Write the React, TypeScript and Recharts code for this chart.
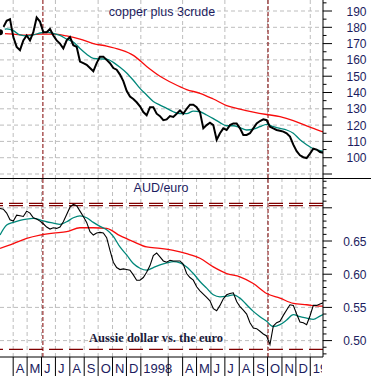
import React from 'react';
import { LineChart, Line, XAxis, YAxis, CartesianGrid, ReferenceLine } from 'recharts';

// x values are days counted from 1 Jan 1997
const X_DOMAIN: [number, number] = [61.6, 757.4];
const PRICE_START_DAY = 61.6;
const PRICE_STEP_DAYS = 7.18;
const FAST_STEP_DAYS = 14.36;
const SLOW_STEP_DAYS = 28.72;

// ---- copper plus 3crude (top panel) ----
const copperPrice = [
  177, 180, 184, 185, 174, 168, 166, 172, 175, 172,
  177, 186, 183.5, 177, 177, 179, 175, 172, 170, 167,
  172, 174, 169, 168, 159, 158, 157, 155, 153, 158,
  162, 162, 160, 158, 155, 154, 151, 147, 141, 137.5,
  136, 134, 131.5, 128, 126, 131, 131, 127, 125.5, 123,
  123.5, 125.5, 125, 127, 129, 127, 130, 132.5, 132.5, 131,
  128, 118, 120, 121.5, 120, 111, 115, 118, 117, 120,
  121, 121, 118, 114, 114, 115, 118, 121, 122.5, 123.5,
  123, 119, 118, 117, 116.5, 116, 115, 113, 108, 104,
  101.5, 100.3, 99.8, 102.5, 105.5, 105, 103.5, 103, 102.5,
];
const copperFastMA = [
  178, 179, 178, 175.3, 174.7, 175.3, 176.5, 177, 176.2, 175,
  172.8, 171, 167, 163.5, 161, 160.6, 160.5, 158.5, 155.5, 152,
  147.5, 142.5, 138.5, 134.5, 132.3, 130.3, 128.2, 127, 127, 128.6,
  128.2, 126.2, 124, 121.5, 119.6, 119.6, 118.4, 117, 117.5, 119,
  120.5, 119, 118, 117, 115, 111, 108, 105.5, 104.3, 103.2,
];
const copperSlowMA = [
  176.3, 175.8, 175.2, 175.8, 175.8, 174.7, 172.8, 170, 168.5, 166.3,
  162.8, 156, 150, 145.5, 141.8, 139.5, 136, 132, 129.8, 128,
  126.5, 125.2, 122.8, 119.5, 116.5, 114,
];

// ---- AUD/euro (bottom panel) ----
const audPrice = [
  0.699, 0.698, 0.692, 0.682, 0.680, 0.689, 0.688, 0.687, 0.695, 0.692,
  0.685, 0.683, 0.680, 0.676, 0.671, 0.668, 0.670, 0.669, 0.671, 0.679,
  0.690, 0.701, 0.705, 0.703, 0.695, 0.687, 0.678, 0.664, 0.659, 0.662,
  0.663, 0.662, 0.655, 0.636, 0.618, 0.610, 0.607, 0.608, 0.607, 0.606,
  0.599, 0.591, 0.591, 0.595, 0.603, 0.613, 0.628, 0.632, 0.626, 0.620,
  0.618, 0.621, 0.620, 0.620, 0.620, 0.615, 0.601, 0.595, 0.591, 0.581,
  0.575, 0.570, 0.565, 0.560, 0.548, 0.545, 0.553, 0.563, 0.569, 0.571,
  0.572, 0.559, 0.551, 0.546, 0.540, 0.527, 0.519, 0.518, 0.514, 0.510,
  0.507, 0.494, 0.522, 0.527, 0.529, 0.538, 0.546, 0.554, 0.553, 0.540,
  0.528, 0.527, 0.524, 0.537, 0.553, 0.553, 0.555, 0.557, 0.556,
];
const audFastMA = [
  0.659, 0.674, 0.678, 0.681, 0.683, 0.684, 0.682, 0.679, 0.677, 0.675,
  0.679, 0.685, 0.688, 0.685, 0.678, 0.672, 0.667, 0.657, 0.641, 0.629,
  0.616, 0.609, 0.606, 0.610, 0.614, 0.617, 0.619, 0.617, 0.611, 0.601,
  0.589, 0.579, 0.569, 0.566, 0.567, 0.569, 0.564, 0.554, 0.544, 0.536,
  0.529, 0.521, 0.524, 0.531, 0.539, 0.536, 0.534, 0.532, 0.537, 0.541,
];
const audSlowMA = [
  0.639, 0.646, 0.654, 0.659, 0.662, 0.664, 0.670, 0.670, 0.669, 0.658,
  0.649, 0.641, 0.639, 0.636, 0.631, 0.624, 0.611, 0.601, 0.596, 0.586,
  0.571, 0.564, 0.556, 0.554, 0.552, 0.552,
];

// ---- reference levels & markers ----
const audUpperLevels = [0.7068, 0.7032];
const audLowerLevel = 0.4869;
const markerDays = [154, 639];

// ---- axis ticks ----
const monthTickDays = [90, 120, 151, 181, 212, 243, 273, 304, 334, 365, 424, 455, 485, 516, 546, 577, 608, 638, 669, 699, 730];
const monthTickLabels = ['A', 'M', 'J', 'J', 'A', 'S', 'O', 'N', 'D', '1998', '', 'A', 'M', 'J', 'J', 'A', 'S', 'O', 'N', 'D', '1999'];
const topMinorTicks = [90, 95, 100, 105, 110, 115, 120, 125, 130, 135, 140, 145, 150, 155, 160, 165, 170, 175, 180, 185, 190, 195];
const topLabelTicks = [100, 110, 120, 130, 140, 150, 160, 170, 180, 190];
const topGridValues = [90, 100, 110, 120, 130, 140, 150, 160, 170, 180, 190];
const bottomMinorTicks = [0.48, 0.49, 0.5, 0.51, 0.52, 0.53, 0.54, 0.55, 0.56, 0.57, 0.58, 0.59, 0.6, 0.61, 0.62, 0.63, 0.64, 0.65, 0.66, 0.67, 0.68, 0.69, 0.7, 0.71, 0.72, 0.73, 0.74];
const bottomLabelTicks = [0.5, 0.55, 0.6, 0.65];
const bottomMajorTicks = [0.5, 0.55, 0.6, 0.65, 0.7];
const bottomGridValues = [0.5, 0.55, 0.6, 0.65, 0.7];

const toSeries = (vals: number[], start: number, step: number) =>
  vals.map((v, i) => ({ d: start + i * step, v }));

const copperPriceData = toSeries(copperPrice, PRICE_START_DAY, PRICE_STEP_DAYS);
const copperFastData = toSeries(copperFastMA, PRICE_START_DAY, FAST_STEP_DAYS);
const copperSlowData = toSeries(copperSlowMA, PRICE_START_DAY, SLOW_STEP_DAYS);
const audPriceData = toSeries(audPrice, PRICE_START_DAY, PRICE_STEP_DAYS);
const audFastData = toSeries(audFastMA, PRICE_START_DAY, FAST_STEP_DAYS);
const audSlowData = toSeries(audSlowMA, PRICE_START_DAY, SLOW_STEP_DAYS);

const LABEL_COLOR = '#1c1c60';
const SANS = '"Liberation Sans", Arial, sans-serif';
const SERIF = '"Liberation Serif", "Times New Roman", serif';
const GRID = '#bdbdbd';
const MARKER = '#800000';
const TEAL = '#00877a';
const RED = '#f80c0c';

const near = (a: number, list: number[]) => list.some((b) => Math.abs(a - b) < 1e-6);

const makeYTick = (labels: number[], majors: number[], fmt: (v: number) => string) => (props: any) => {
  const { x, y, payload } = props;
  const v = payload.value as number;
  const major = near(v, majors);
  return (
    <g>
      <line x1={x} y1={y} x2={x + (major ? 9 : 3.5)} y2={y} stroke="#000" strokeWidth={1} />
      {near(v, labels) && (
        <text x={x + 43.5} y={y + 4.5} textAnchor="end" fontFamily={SANS} fontSize={12} fill={LABEL_COLOR}>
          {fmt(v)}
        </text>
      )}
    </g>
  );
};

const TopYTick = makeYTick(topLabelTicks, topGridValues, (v) => String(v));
const BottomYTick = makeYTick(bottomLabelTicks, bottomMajorTicks, (v) => v.toFixed(2));

const XTick = (props: any) => {
  const { x, y, payload } = props;
  const idx = monthTickDays.indexOf(payload.value);
  const label = idx >= 0 ? monthTickLabels[idx] : '';
  return (
    <g>
      <line x1={x} y1={y} x2={x} y2={y + 20} stroke="#000" strokeWidth={1} />
      <defs>
        <clipPath id={`xc${idx}`}>
          <rect x={x} y={y} width={Math.max(0, 322 - x)} height={20} />
        </clipPath>
      </defs>
      <text
        x={x + 2.5}
        y={y + 16}
        textAnchor="start"
        fontFamily={SANS}
        fontSize={13}
        fill={LABEL_COLOR}
        clipPath={`url(#xc${idx})`}
      >
        {label}
      </text>
    </g>
  );
};

export default function App() {
  return (
    <div style={{ position: 'fixed', left: 0, top: 0, width: 371, height: 376, overflow: 'hidden', background: '#fff' }}>
      <div style={{ position: 'absolute', left: 0, top: 0 }}>
        <LineChart width={371} height={178} margin={{ top: 0, right: 0, bottom: 0, left: 0 }}>
          <XAxis type="number" dataKey="d" domain={X_DOMAIN} allowDataOverflow hide />
          <YAxis
            orientation="right"
            type="number"
            domain={[87.55, 196.75]}
            allowDataOverflow
            width={48}
            ticks={topMinorTicks}
            interval={0}
            tick={TopYTick}
            tickLine={false}
            tickSize={0}
            tickMargin={0}
            axisLine={{ stroke: '#000' }}
          />
          <CartesianGrid
            stroke={GRID}
            strokeDasharray="4 3"
            horizontalValues={topGridValues}
            verticalValues={monthTickDays}
          />
          {markerDays.map((d) => (
            <ReferenceLine key={d} x={d} stroke={MARKER} strokeDasharray="4 2" />
          ))}
          <Line data={copperSlowData} dataKey="v" type="monotone" stroke={RED} strokeWidth={1.3} dot={false} isAnimationActive={false} />
          <Line data={copperFastData} dataKey="v" type="monotone" stroke={TEAL} strokeWidth={1.3} dot={false} isAnimationActive={false} />
          <Line data={copperPriceData} dataKey="v" type="linear" stroke="#000" strokeWidth={2} dot={false} isAnimationActive={false} />
        </LineChart>
      </div>
      <div style={{ position: 'absolute', left: 0, top: 178 }}>
        <LineChart width={371} height={198} margin={{ top: 0, right: 0, bottom: 0, left: 0 }}>
          <XAxis
            type="number"
            dataKey="d"
            domain={X_DOMAIN}
            allowDataOverflow
            ticks={monthTickDays}
            interval={0}
            tick={XTick}
            tickLine={false}
            tickSize={0}
            tickMargin={0}
            height={19}
            axisLine={{ stroke: '#000' }}
          />
          <YAxis
            orientation="right"
            type="number"
            domain={[0.4753, 0.7449]}
            allowDataOverflow
            width={48}
            ticks={bottomMinorTicks}
            interval={0}
            tick={BottomYTick}
            tickLine={false}
            tickSize={0}
            tickMargin={0}
            axisLine={{ stroke: '#000' }}
          />
          <CartesianGrid
            stroke={GRID}
            strokeDasharray="4 3"
            horizontalValues={bottomGridValues}
            verticalValues={monthTickDays}
          />
          {markerDays.map((d) => (
            <ReferenceLine key={d} x={d} stroke={MARKER} strokeDasharray="4 2" />
          ))}
          {audUpperLevels.map((v) => (
            <ReferenceLine key={v} y={v} stroke={MARKER} strokeWidth={1.2} strokeDasharray="14 6" />
          ))}
          <ReferenceLine y={audLowerLevel} stroke={MARKER} strokeWidth={1.2} strokeDasharray="14 6" />
          <Line data={audSlowData} dataKey="v" type="monotone" stroke={RED} strokeWidth={1.3} dot={false} isAnimationActive={false} />
          <Line data={audFastData} dataKey="v" type="monotone" stroke={TEAL} strokeWidth={1.3} dot={false} isAnimationActive={false} />
          <Line data={audPriceData} dataKey="v" type="linear" stroke="#000" strokeWidth={1.1} dot={false} isAnimationActive={false} />
        </LineChart>
      </div>
      <svg width={371} height={376} style={{ position: 'absolute', left: 0, top: 0, pointerEvents: 'none' }}>
        <line x1={0} y1={178.5} x2={371} y2={178.5} stroke="#000" strokeWidth={1} />
        <text x={162} y={15.5} textAnchor="middle" fontFamily={SANS} fontSize={12.5} fill={LABEL_COLOR}>
          copper plus 3crude
        </text>
        <text x={161} y={191.5} textAnchor="middle" fontFamily={SANS} fontSize={12.5} fill={LABEL_COLOR}>
          AUD/euro
        </text>
        <text x={156} y={341.5} textAnchor="middle" fontFamily={SERIF} fontWeight="bold" fontSize={12.5} fill="#1a1a3a">
          Aussie dollar vs. the euro
        </text>
      </svg>
    </div>
  );
}
